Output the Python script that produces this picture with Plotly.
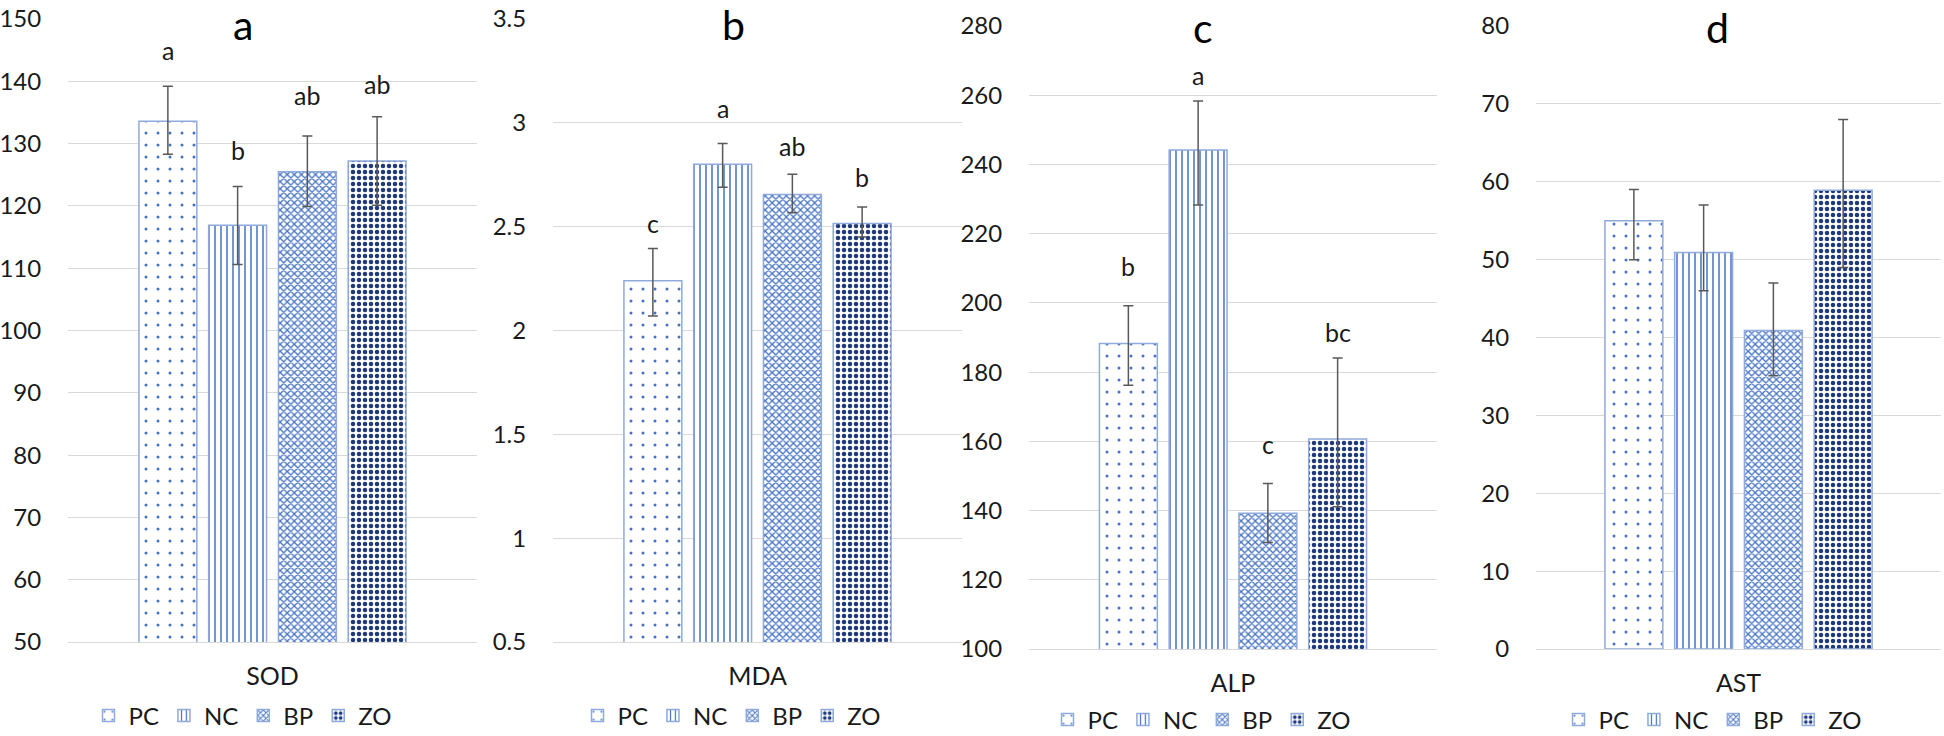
import plotly.graph_objects as go

groups = ["PC", "NC", "BP", "ZO"]
panel_titles = ["a", "b", "c", "d"]
markers = ["SOD", "MDA", "ALP", "AST"]

sod_mean = [133.6, 116.9, 125.5, 127.2]
sod_err_plus = [5.6, 6.2, 5.7, 7.1]
sod_err_minus = [5.3, 6.3, 5.6, 7.1]
sod_letters = ["a", "b", "ab", "ab"]
sod_letter_y = [145.0, 129.0, 137.8, 139.6]

mda_mean = [2.24, 2.80, 2.655, 2.515]
mda_err_plus = [0.155, 0.10, 0.097, 0.08]
mda_err_minus = [0.17, 0.11, 0.088, 0.065]
mda_letters = ["c", "a", "ab", "b"]
mda_letter_y = [2.52, 3.07, 2.89, 2.74]

alp_mean = [188.3, 244.2, 139.2, 160.7]
alp_err_plus = [10.9, 14.1, 8.6, 23.4]
alp_err_minus = [12.1, 15.9, 8.4, 19.6]
alp_letters = ["b", "a", "c", "bc"]
alp_letter_y = [210.7, 265.8, 159.1, 191.6]

ast_mean = [55.0, 50.9, 40.9, 58.9]
ast_err_plus = [4.0, 6.1, 6.1, 9.1]
ast_err_minus = [5.0, 4.9, 5.8, 9.9]
ast_letters = ["", "", "", ""]
ast_letter_y = [0, 0, 0, 0]

y_ranges = [[50, 150], [0.5, 3.5], [100, 280], [0, 80]]
y_dticks = [10, 0.5, 20, 10]

means = [sod_mean, mda_mean, alp_mean, ast_mean]
errp = [sod_err_plus, mda_err_plus, alp_err_plus, ast_err_plus]
errm = [sod_err_minus, mda_err_minus, alp_err_minus, ast_err_minus]
letters = [sod_letters, mda_letters, alp_letters, ast_letters]
letter_y = [sod_letter_y, mda_letter_y, alp_letter_y, ast_letter_y]

# styles
W, H = 1944, 736
FONT = "Lato"
TXT = "#1a1a1a"
OUTLINE = "#8FAADC"
patterns = [
    dict(shape=".", fgcolor="#4472C4", bgcolor="white", size=12, solidity=0.05, fgopacity=1),
    dict(shape="|", fgcolor="#4472C4", bgcolor="white", size=6, solidity=0.25, fgopacity=1),
    dict(shape="x", fgcolor="#4472C4", bgcolor="white", size=5, solidity=0.45, fgopacity=1),
    dict(shape=".", fgcolor="#1F3A7A", bgcolor="white", size=6, solidity=0.45, fgopacity=1),
]

# pixel layout of each panel plot area: (left, right, top, bottom)
areas = [(68, 477, 19, 642), (553, 962, 19, 642), (1029, 1437, 26, 649), (1536, 1941, 26, 649)]
title_pos = [(243, 24), (733, 24), (1203, 27), (1717, 27)]
legend_pos = [(243, 716), (732, 716), (1202, 720), (1713, 720)]

fig = go.Figure()
annotations = []
bar_w = 0.83
slot_px = 69.75

for p in range(4):
    xa = "x" if p == 0 else f"x{p+1}"
    ya = "y" if p == 0 else f"y{p+1}"
    lg = "legend" if p == 0 else f"legend{p+1}"
    for i, g in enumerate(groups):
        fig.add_trace(go.Bar(
            x=[i], y=[means[p][i]], name=g, xaxis=xa, yaxis=ya, legend=lg,
            width=bar_w, opacity=1,
            marker=dict(color="white", opacity=1, pattern=patterns[i],
                        line=dict(color=OUTLINE, width=1.5)),
            error_y=dict(type="data", symmetric=False, array=[errp[p][i]],
                         arrayminus=[errm[p][i]], color="#595959",
                         thickness=1.5, width=5),
            showlegend=True,
        ))
        if letters[p][i]:
            annotations.append(dict(
                x=i, y=letter_y[p][i], xref=xa, yref=ya, text=letters[p][i],
                showarrow=False, font=dict(family=FONT, size=25, color=TXT),
                xanchor="center", yanchor="middle"))
    l, r, t, b = areas[p]
    npx = r - l
    half = npx / slot_px / 2
    xkey = "xaxis" if p == 0 else f"xaxis{p+1}"
    ykey = "yaxis" if p == 0 else f"yaxis{p+1}"
    fig.update_layout(**{
        xkey: dict(domain=[l / W, r / W], anchor=ya, range=[1.5 - half, 1.5 + half],
                   tickvals=[1.5], ticktext=[markers[p]], showgrid=False,
                   zeroline=False, showline=True, linecolor="#D9D9D9", linewidth=1,
                   ticks="outside", ticklen=12, tickcolor="rgba(0,0,0,0)",
                   automargin=False,
                   tickfont=dict(family=FONT, size=25, color=TXT), fixedrange=True),
        ykey: dict(domain=[(H - b) / H, (H - t) / H], anchor=xa, range=y_ranges[p],
                   dtick=y_dticks[p], tick0=0, showgrid=True, gridcolor="#D9D9D9",
                   gridwidth=1, zeroline=False, showline=False,
                   ticks="outside", ticklen=21, tickcolor="rgba(0,0,0,0)",
                   automargin=False,
                   tickfont=dict(family=FONT, size=24, color=TXT)),
        lg: dict(orientation="h", x=legend_pos[p][0] / W, y=(H - legend_pos[p][1]) / H,
                 xanchor="center", yanchor="middle", font=dict(family=FONT, size=24, color=TXT),
                 itemwidth=30, bgcolor="rgba(0,0,0,0)", tracegroupgap=0),
    })
    annotations.append(dict(
        x=title_pos[p][0] / W, y=(H - title_pos[p][1]) / H, xref="paper", yref="paper",
        text=panel_titles[p], showarrow=False, xanchor="center", yanchor="middle",
        font=dict(family=FONT, size=41, color="#000000")))

fig.update_layout(
    width=W, height=H, margin=dict(l=0, r=0, t=0, b=0, autoexpand=False),
    paper_bgcolor="white", plot_bgcolor="white",
    barmode="overlay", annotations=annotations,
    font=dict(family=FONT, size=25, color=TXT),
)

fig.write_html("out.html", config={"displayModeBar": False},
               post_script="document.body.style.margin='0';document.body.style.overflow='hidden';")
